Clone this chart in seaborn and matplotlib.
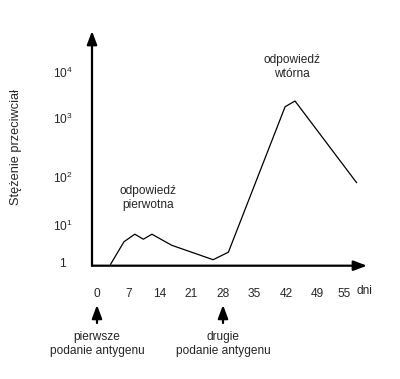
import numpy as np
import pandas as pd
import matplotlib
matplotlib.use("Agg")
import matplotlib.pyplot as plt
import seaborn as sns

# Data (antibody concentration vs days)
days = [3.0, 6.0, 8.4, 10.3, 12.2, 16.6, 25.8, 29.2, 41.8, 44.0, 57.7]
conc = [0.9, 3.6, 5.7, 4.2, 5.7, 2.9, 1.2, 1.9, 1770, 2350, 75]

x_ticks = [0, 7, 14, 21, 28, 35, 42, 49, 55]
y_ticks = [1, 10, 100, 1000, 10000]
y_tick_labels = ["1", r"$\mathregular{10^1}$", r"$\mathregular{10^2}$",
                 r"$\mathregular{10^3}$", r"$\mathregular{10^4}$"]

df = pd.DataFrame({"dzien": days, "stezenie": conc})

sns.set_style("white")
plt.rcParams["font.family"] = ["Liberation Sans", "DejaVu Sans"]
plt.rcParams["mathtext.fontset"] = "custom"
plt.rcParams["mathtext.rm"] = "Liberation Sans"

FS = 8.6

# The hand-drawn log axis has uneven decades: piecewise-linear in log10
LOG_KNOTS = np.array([0, 1, 2, 3, 4], dtype=float)
H_KNOTS = np.array([3, 40.7, 89, 147.4, 194], dtype=float)


def _pw(x, xs, ys):
    y = np.interp(x, xs, ys)
    lo = ys[0] + (x - xs[0]) * (ys[1] - ys[0]) / (xs[1] - xs[0])
    hi = ys[-1] + (x - xs[-1]) * (ys[-1] - ys[-2]) / (xs[-1] - xs[-2])
    y = np.where(x < xs[0], lo, y)
    y = np.where(x > xs[-1], hi, y)
    return y


def fwd(v):
    v = np.asarray(v, dtype=float)
    return _pw(np.log10(np.maximum(v, 1e-300)), LOG_KNOTS, H_KNOTS)


def inv(h):
    h = np.asarray(h, dtype=float)
    return 10 ** _pw(h, H_KNOTS, LOG_KNOTS)


fig = plt.figure(figsize=(4.0, 3.79), dpi=100)
ax = fig.add_axes([92 / 400, 1 - 265.7 / 379, 275 / 400, 234.7 / 379])

ax.set_yscale("function", functions=(fwd, inv))
sns.lineplot(data=df, x="dzien", y="stezenie", ax=ax, color="black",
             linewidth=0.9, estimator=None, sort=False)

ax.set_xlim((92 - 97) / 4.5, (367 - 97) / 4.5)
ax.set_ylim(float(inv(0)), float(inv(234.7)))

ax.set_xticks(x_ticks)
ax.set_xticklabels([str(t) for t in x_ticks], fontsize=FS)
ax.set_yticks(y_ticks)
ax.set_yticklabels(y_tick_labels, fontsize=FS, ha="center")
ax.minorticks_off()
ax.tick_params(axis="x", length=0, pad=16)
ax.tick_params(axis="y", length=0, pad=21)

ax.set_xlabel("")
ax.set_ylabel("Stężenie przeciwciał", fontsize=9.2)
ax.yaxis.set_label_coords(-0.2545, 0.506)
sns.despine(ax=ax, left=True, bottom=True)

# Axis arrows
axis_arrow = dict(arrowstyle="-|>,head_length=0.8,head_width=0.3",
                  color="black", lw=1.6, shrinkA=0, shrinkB=0, mutation_scale=10)
ax.annotate("", xy=(1, 0), xytext=(0, 0), xycoords="axes fraction",
            arrowprops=axis_arrow, annotation_clip=False)
ax.annotate("", xy=(0, 1), xytext=(0, 0), xycoords="axes fraction",
            arrowprops=axis_arrow, annotation_clip=False)

xt = ax.get_xaxis_transform()
ax.text((364 - 97) / 4.5, -0.108, "dni", transform=xt, fontsize=FS,
        ha="center", va="center")

# Injection markers
inj_arrow = dict(arrowstyle="-|>,head_length=0.8,head_width=0.3",
                 color="black", lw=1.6, shrinkA=0, shrinkB=0, mutation_scale=10)
for d, label in [(0, "pierwsze\npodanie antygenu"), (28, "drugie\npodanie antygenu")]:
    ax.annotate("", xy=(d, -0.167), xytext=(d, -0.244), xycoords=xt,
                arrowprops=inj_arrow, annotation_clip=False)
    ax.text(d, -0.335, label, transform=xt, fontsize=FS, ha="center",
            va="center", linespacing=1.25)

# Response labels
ax.text(11.4, float(inv(265.7 - 198)), "odpowiedź\npierwotna", fontsize=FS,
        ha="center", va="center", linespacing=1.25)
ax.text(43.3, float(inv(265.7 - 67)), "odpowiedź\nwtórna", fontsize=FS,
        ha="center", va="center", linespacing=1.25)

plt.savefig("out.png", dpi=100)
